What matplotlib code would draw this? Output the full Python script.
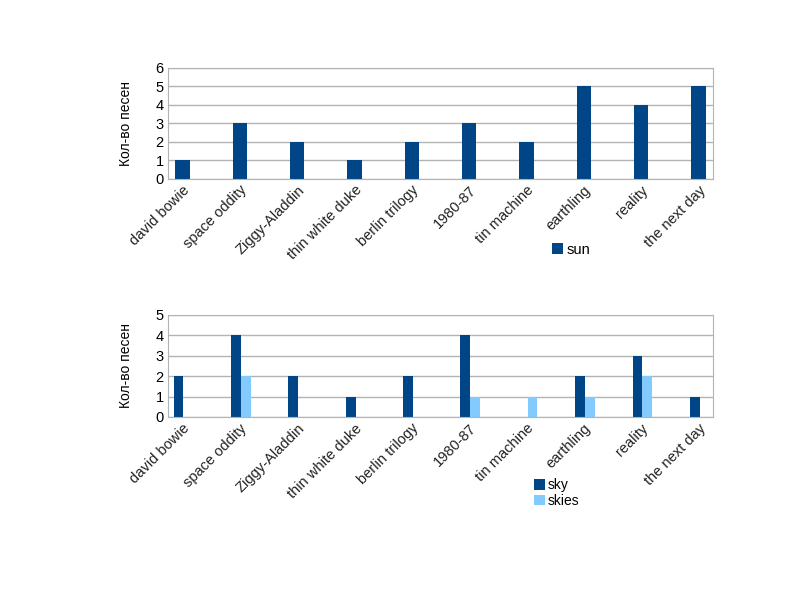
import matplotlib
matplotlib.use('Agg')
import matplotlib.pyplot as plt
import numpy as np

plt.rcParams['font.family'] = ['Liberation Sans', 'DejaVu Sans']

albums = ['david bowie', 'space oddity', 'Ziggy-Aladdin', 'thin white duke',
          'berlin trilogy', '1980-87', 'tin machine', 'earthling', 'reality',
          'the next day']
sun = [1, 3, 2, 1, 2, 3, 2, 5, 4, 5]
sky = [2, 4, 2, 1, 2, 4, 0, 2, 3, 1]
skies = [0, 2, 0, 0, 0, 1, 1, 1, 2, 0]

dark = '#004586'
light = '#83caff'
grid = '#b3b3b3'

fig = plt.figure(figsize=(8, 6), dpi=100)
ax1 = fig.add_axes([0.21, 0.702, 0.681, 0.185])
ax2 = fig.add_axes([0.21, 0.305, 0.681, 0.17])

x = np.arange(len(albums))


def style(ax, ymax):
    ax.set_xlim(-0.25, 9.25)
    ax.set_ylim(0, ymax)
    ax.set_yticks(range(ymax + 1))
    ax.yaxis.grid(True, color=grid, linewidth=1)
    ax.set_axisbelow(True)
    for s in ax.spines.values():
        s.set_color(grid)
    ax.tick_params(length=0, labelsize=10.5, pad=3)
    ax.set_xticks(x)
    ax.set_xticklabels(albums, rotation=45, ha='right', rotation_mode='anchor',
                       fontsize=10.5, color='#222222')
    ax.set_ylabel('Кол-во песен', fontsize=10, labelpad=16)


ax1.bar(x, sun, width=0.25, color=dark, label='sun')
style(ax1, 6)
ax1.legend(loc='upper left', bbox_to_anchor=(0.68, -0.46), frameon=False,
           handlelength=0.8, handleheight=0.8, handletextpad=0.2, fontsize=10.5)

w = 0.17
ax2.bar(x - w / 2 + 0.02, sky, width=w, color=dark, label='sky')
ax2.bar(x + w / 2 + 0.02, skies, width=w, color=light, label='skies')
style(ax2, 5)
ax2.legend(loc='upper left', bbox_to_anchor=(0.648, -0.48), frameon=False,
           handlelength=0.8, handleheight=0.8, handletextpad=0.2, fontsize=10,
           labelspacing=0.1)

fig.savefig('out.png', dpi=100)
